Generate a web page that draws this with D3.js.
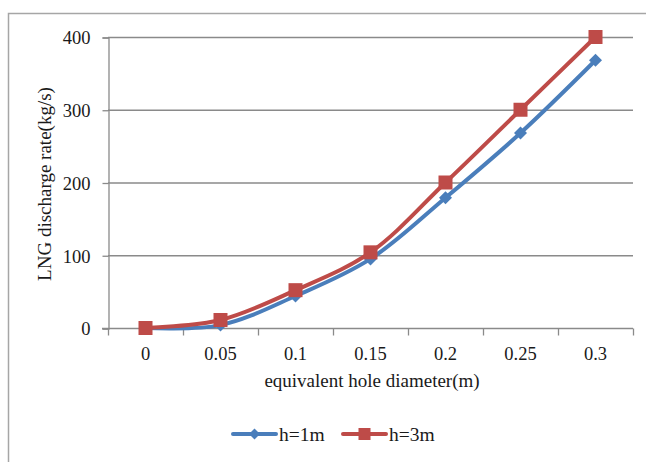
<!DOCTYPE html>
<html>
<head>
<meta charset="utf-8">
<script src="https://cdn.jsdelivr.net/npm/d3@7"></script>
<style>
  body { margin: 0; background: #fff; }
  text { font-family: "Liberation Serif", "Times New Roman", serif; fill: #1a1a1a; }
</style>
</head>
<body>
<div id="chart"></div>
<script>
'use strict';

// data
const diameters = ['0', '0.05', '0.1', '0.15', '0.2', '0.25', '0.3'];
const rateH1 = [0, 4, 44, 95, 179, 268, 368];
const rateH3 = [0, 11, 52, 104, 200, 300, 400];
const yTicks = [0, 100, 200, 300, 400];

const width = 646,
      height = 462;
const plot = {'left': 108, 'right': 633, 'top': 37, 'bottom': 328};

const blue = '#4a7ebb',
      red = '#be4b48',
      axisColor = '#8a8a8a';

let svg = d3.select('#chart')
            .append('svg')
            .attr('width', width)
            .attr('height', height);

// outer chart frame
svg.append('rect')
   .attr('x', 8.5)
   .attr('y', 13.5)
   .attr('width', 700)
   .attr('height', 500)
   .attr('fill', 'none')
   .attr('stroke', '#a6a6a6')
   .attr('stroke-width', 1.5);

let x = d3.scalePoint()
          .domain(diameters)
          .range([plot.left, plot.right])
          .padding(0.5);
let y = d3.scaleLinear()
          .domain([0, 400])
          .range([plot.bottom, plot.top]);

// gridlines
svg.append('g')
   .selectAll('line')
   .data(yTicks.slice(1))
   .enter()
   .append('line')
   .attr('x1', plot.left)
   .attr('x2', plot.right)
   .attr('y1', d => y(d) + 0.5)
   .attr('y2', d => y(d) + 0.5)
   .attr('stroke', axisColor)
   .attr('stroke-width', 1.3);

// y axis
let yAxis = svg.append('g')
               .attr('transform', 'translate(' + (plot.left + 0.5) + ',0.5)')
               .call(d3.axisLeft(y).tickValues(yTicks).tickSize(6).tickPadding(12));
yAxis.select('.domain').attr('stroke', axisColor).attr('stroke-width', 1.3);
yAxis.selectAll('.tick line').attr('stroke', axisColor).attr('stroke-width', 1.3);
yAxis.selectAll('.tick text').style('font-size', '18.5px').attr('dy', '0.34em');

// x axis with ticks between categories
let step = x.step();
let xAxisG = svg.append('g')
                .attr('transform', 'translate(0,' + (plot.bottom + 0.5) + ')');
xAxisG.append('line')
      .attr('x1', plot.left - 6)
      .attr('x2', plot.right)
      .attr('stroke', axisColor)
      .attr('stroke-width', 1.3);
xAxisG.selectAll('.xtick')
      .data(d3.range(diameters.length + 1))
      .enter()
      .append('line')
      .attr('x1', i => plot.left + i * step + 0.5)
      .attr('x2', i => plot.left + i * step + 0.5)
      .attr('y1', 0)
      .attr('y2', 7)
      .attr('stroke', axisColor)
      .attr('stroke-width', 1.3);
xAxisG.selectAll('.xlabel')
      .data(diameters)
      .enter()
      .append('text')
      .attr('x', d => x(d))
      .attr('y', 31)
      .attr('text-anchor', 'middle')
      .style('font-size', '18.5px')
      .text(d => d);

// axis titles
svg.append('text')
   .attr('transform', 'translate(51,184) rotate(-90)')
   .attr('text-anchor', 'middle')
   .style('font-size', '19px')
   .text('LNG discharge rate(kg/s)');

svg.append('text')
   .attr('x', 372)
   .attr('y', 387)
   .attr('text-anchor', 'middle')
   .style('font-size', '19px')
   .text('equivalent hole diameter(m)');

// series
let line = d3.line()
             .x((d, i) => x(diameters[i]))
             .y(d => y(d))
             .curve(d3.curveCatmullRom.alpha(0.5));

function diamond(cx, cy, r) {
    return 'M' + cx + ',' + (cy - r) + 'L' + (cx + r) + ',' + cy +
           'L' + cx + ',' + (cy + r) + 'L' + (cx - r) + ',' + cy + 'Z';
}

function drawSeries(values, color, marker) {
    let g = svg.append('g');
    g.append('path')
     .datum(values)
     .attr('d', line)
     .attr('fill', 'none')
     .attr('stroke', color)
     .attr('stroke-width', 4)
     .attr('stroke-linejoin', 'round');
    if (marker == 'square') {
        g.selectAll('rect')
         .data(values)
         .enter()
         .append('rect')
         .attr('x', (d, i) => x(diameters[i]) - 7)
         .attr('y', d => y(d) - 7)
         .attr('width', 14)
         .attr('height', 14)
         .attr('fill', color);
    } else {
        g.selectAll('path.mk')
         .data(values)
         .enter()
         .append('path')
         .attr('class', 'mk')
         .attr('d', (d, i) => diamond(x(diameters[i]), y(d), 6.5))
         .attr('fill', color);
    }
}

drawSeries(rateH1, blue, 'diamond');
drawSeries(rateH3, red, 'square');

// legend
let legend = svg.append('g').attr('transform', 'translate(0,434)');
let items = [{'name': 'h=1m', 'color': blue, 'marker': 'diamond', 'x': 233},
             {'name': 'h=3m', 'color': red, 'marker': 'square', 'x': 343}];
items.forEach(function(it) {
    legend.append('line')
          .attr('x1', it.x)
          .attr('x2', it.x + 43)
          .attr('stroke', it.color)
          .attr('stroke-width', 4)
          .attr('stroke-linecap', 'round');
    if (it.marker == 'square') {
        legend.append('rect')
              .attr('x', it.x + 21.5 - 6)
              .attr('y', -6)
              .attr('width', 12)
              .attr('height', 12)
              .attr('fill', it.color);
    } else {
        legend.append('path')
              .attr('d', diamond(it.x + 21.5, 0, 5.5))
              .attr('fill', it.color);
    }
    legend.append('text')
          .attr('x', it.x + 46)
          .attr('y', 0)
          .attr('dy', '0.35em')
          .style('font-size', '19.5px')
          .text(it.name);
});
</script>
</body>
</html>
